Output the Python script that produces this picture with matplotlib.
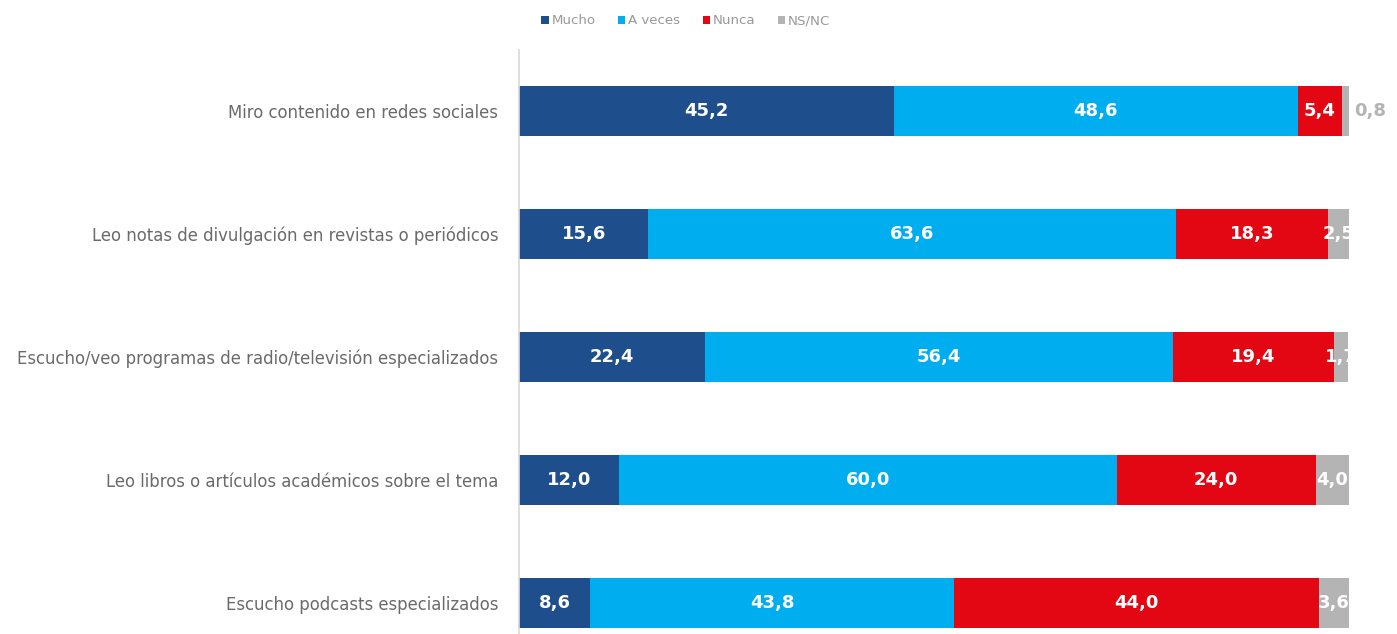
import matplotlib
matplotlib.use("Agg")
import matplotlib.pyplot as plt
from matplotlib.patches import Patch

categories = [
    "Miro contenido en redes sociales",
    "Leo notas de divulgación en revistas o periódicos",
    "Escucho/veo programas de radio/televisión especializados",
    "Leo libros o artículos académicos sobre el tema",
    "Escucho podcasts especializados",
]
series_names = ["Mucho", "A veces", "Nunca", "NS/NC"]
mucho = [45.2, 15.6, 22.4, 12.0, 8.6]
a_veces = [48.6, 63.6, 56.4, 60.0, 43.8]
nunca = [5.4, 18.3, 19.4, 24.0, 44.0]
ns_nc = [0.8, 2.5, 1.7, 4.0, 3.6]
colors = ["#1f4e8c", "#00aeef", "#e30613", "#b4b4b4"]

series = [mucho, a_veces, nunca, ns_nc]

fig = plt.figure(figsize=(13.97, 6.34), dpi=100)
ax = fig.add_axes([519/1397, 0.0, 830/1397, 584/634])

ypos = list(range(len(categories)))
left = [0.0] * len(categories)
for si, (vals, col) in enumerate(zip(series, colors)):
    ax.barh(ypos, vals, left=left, height=0.41, color=col, edgecolor="none")
    for i, v in enumerate(vals):
        lbl = f"{v:.1f}".replace(".", ",")
        if v < 1:
            ax.text(left[i] + v + 0.6, i, lbl, ha="left", va="center",
                    color="#b4b4b4", fontsize=13, fontweight="bold",
                    family="DejaVu Sans", clip_on=False)
        else:
            ax.text(left[i] + v / 2, i, lbl, ha="center", va="center",
                    color="white", fontsize=13, fontweight="bold",
                    family="DejaVu Sans", clip_on=False)
    left = [l + v for l, v in zip(left, vals)]

ax.set_xlim(0, 100)
ax.set_ylim(4.252, -0.496)
ax.set_yticks(ypos)
ax.set_yticklabels(categories, fontsize=11.9, color="#6a6a6a", family="DejaVu Sans")
ax.tick_params(axis="y", length=0, pad=15)
ax.set_xticks([])
for s in ["top", "right", "bottom"]:
    ax.spines[s].set_visible(False)
ax.spines["left"].set_color("#d9d9d9")
ax.spines["left"].set_linewidth(1.2)

handles = [Patch(facecolor=c, edgecolor="none") for c in colors]
fig.legend(handles, series_names, loc="center", bbox_to_anchor=(0.491, 0.967),
           ncol=4, frameon=False, fontsize=9.6, labelcolor="#999999",
           handlelength=0.55, handleheight=0.55, handletextpad=0.2,
           columnspacing=1.7)

fig.savefig("out.png", dpi=100)
